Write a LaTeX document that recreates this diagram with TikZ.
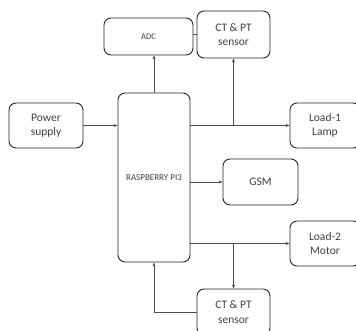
\documentclass[tikz,border=0pt]{standalone}
\usepackage{fontspec}
\setmainfont{Carlito}
\usetikzlibrary{arrows.meta}

\begin{document}
\begin{tikzpicture}[x=1pt,y=-1pt,
  every node/.style={font=\fontsize{11.5}{14.5}\selectfont, text=black!75},
  blk/.style={draw=black!85, line width=0.9pt, rounded corners=7pt, align=center, inner sep=0pt},
  con/.style={draw=black!70, line width=0.5pt},
  arr/.style={con, -{Stealth[length=4pt,width=3pt]}}]
\useasboundingbox (0,0) rectangle (356,330);
\clip (0,0) rectangle (356,330);
\node[blk, minimum width=89pt, minimum height=37pt, font=\fontsize{8.5}{10}\selectfont] (adc) at (148.5, 36.5) {ADC};
\node[blk, minimum width=73pt, minimum height=47pt] (cttop)  at (233.5, 34.5) {CT \& PT\\sensor};
\node[blk, minimum width=72pt, minimum height=169pt, font=\fontsize{9}{11}\selectfont] (rpi) at (154, 177.5) {RASPBERRY PI3};
\node[blk, minimum width=74pt, minimum height=45pt] (power)  at (46, 125.5) {Power\\supply};
\node[blk, minimum width=70pt, minimum height=45pt] (load1)  at (325, 125.5) {Load-1\\Lamp};
\node[blk, minimum width=75pt, minimum height=46pt] (gsm)    at (260.5, 182) {GSM};
\node[blk, minimum width=70pt, minimum height=45pt] (load2)  at (325, 243.5) {Load-2\\Motor};
\node[blk, minimum width=73pt, minimum height=46pt] (ctbot)  at (233.5, 312) {CT \& PT\\sensor};
\coordinate (up)   at (233.5, 125.5);
\coordinate (down) at (233.5, 243.5);
\draw[arr] (power) -- (rpi.west |- power);
\draw[arr] (rpi.north) -- (rpi.north |- adc.south);
\draw[con] (adc.east |- cttop) -- (cttop.west);
\draw[arr] (rpi.east |- load1) -- (load1.west);
\draw[arr] (up) -- (cttop.south);
\draw[arr] (rpi.east |- gsm) -- (gsm.west);
\draw[arr] (rpi.east |- load2) -- (load2.west);
\draw[arr] (down) -- (ctbot.north);
\draw[arr] (ctbot.west) -| (rpi.south);
\end{tikzpicture}
\end{document}
